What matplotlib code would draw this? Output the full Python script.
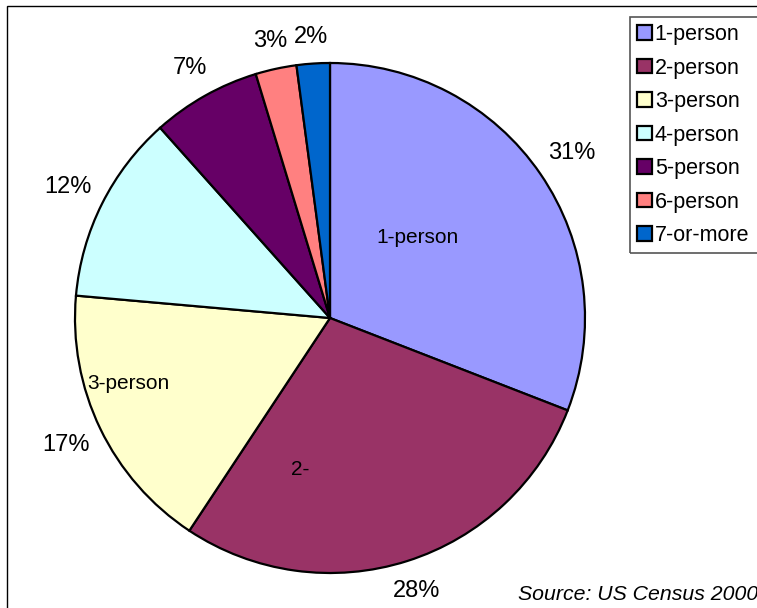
import numpy as np
import matplotlib.pyplot as plt
from matplotlib.patches import Rectangle

plt.rcParams['font.family'] = ['Liberation Sans', 'DejaVu Sans']

sizes = ['1-person', '2-person', '3-person', '4-person', '5-person', '6-person', '7-or-more']
shares = [30.9, 28.4, 17.1, 12.0, 6.9, 2.6, 2.1]
colors = ['#9999FF', '#993366', '#FFFFCC', '#CCFFFF', '#660066', '#FF8080', '#0066CC']

# labels typed on top of the slices in the original
inner_labels = ['1-person', '2-', '3-person']
inner_pos = [(0.345, 0.314), (-0.118, -0.596), (-0.792, -0.255)]

fig = plt.figure(figsize=(7.57, 6.08), dpi=100)

# pie centre at (330, 318) px, radius 255 px
R = 255
r_px = R * 1.3
ax = fig.add_axes([(330 - r_px) / 757, (290 - r_px) / 608, 2 * r_px / 757, 2 * r_px / 608])

wedges, _, pcts = ax.pie(shares, colors=colors, startangle=90, counterclock=False,
                         autopct='%.0f%%', pctdistance=1.12,
                         wedgeprops=dict(edgecolor='black', linewidth=1.6),
                         textprops=dict(fontsize=17, color='black'))
ax.set_xlim(-1.3, 1.3)
ax.set_ylim(-1.3, 1.3)
ax.set_aspect('equal')

# put each percentage just outside the rim, like Excel does: label box sits a fixed gap off the pie
renderer = fig.canvas.get_renderer()
gap = 17
for w, t in zip(wedges, pcts):
    th = np.deg2rad((w.theta1 + w.theta2) / 2)
    bb = t.get_window_extent(renderer)
    proj = bb.width / 2 * abs(np.cos(th)) * 0.8 + bb.height / 2 * abs(np.sin(th)) * 0.8
    d = (R + gap + proj) / R
    t.set_position((d * np.cos(th), d * np.sin(th)))

for txt, (x, y) in zip(inner_labels, inner_pos):
    ax.text(x, y, txt, ha='center', va='center', fontsize=15)

leg = fig.legend(wedges, sizes, loc='upper left',
                 bbox_to_anchor=(630 / 757, 1 - 17 / 608), bbox_transform=fig.transFigure,
                 borderaxespad=0, fontsize=15.5, handlelength=0.68, handleheight=0.68,
                 handletextpad=0.14, labelspacing=0.58, borderpad=0.33,
                 frameon=False)
for h in leg.legend_handles:
    h.set_linewidth(1.6)
    h.set_edgecolor('black')

# legend box runs off the right edge in the original, so draw its frame by hand
fig.canvas.draw()
lb = leg.get_window_extent(fig.canvas.get_renderer()).transformed(fig.transFigure.inverted())
fig.patches.append(Rectangle((lb.x0, lb.y0), 0.3, lb.height, transform=fig.transFigure,
                             fill=False, edgecolor='#555555', linewidth=1.2, zorder=0))

fig.text(518 / 757, 1 - 594 / 608, 'Source: US Census 2000', style='italic',
         fontsize=15.3, ha='left', va='center')

# outer chart border (only left and top edges show in the crop)
fig.patches.append(Rectangle((7 / 757, -0.1), 1.2, 1.1 - 6 / 608, transform=fig.transFigure,
                             fill=False, edgecolor='black', linewidth=1.0))

fig.savefig('out.png', dpi=100)
